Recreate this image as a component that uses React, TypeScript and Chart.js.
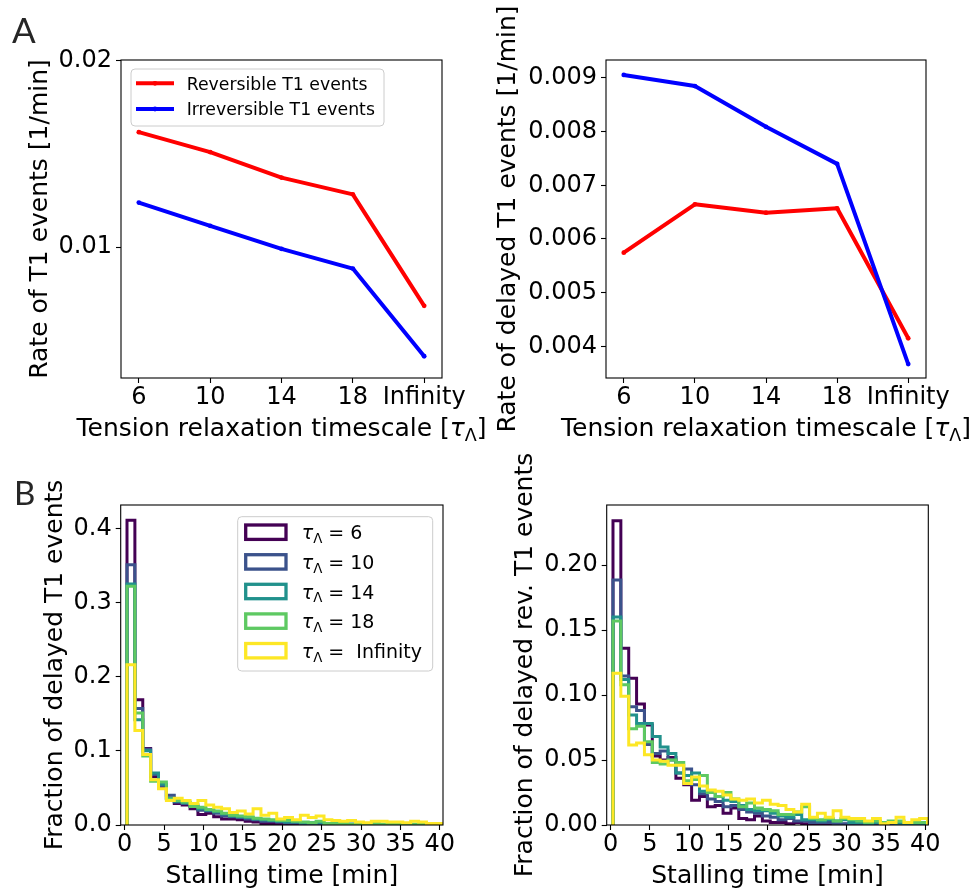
import React, { useEffect, useRef } from "react";
import { Chart, registerables } from "chart.js";

Chart.register(...registerables);

const FONT = "'DejaVu Sans', 'Liberation Sans', Arial, sans-serif";
const TITLE_SIZE = 25;

// ---------------- Panel A data ----------------
const tauCategories = ["6", "10", "14", "18", "Infinity"];
const tauPositions = [0, 1, 2, 3, 4];
const reversibleRate = [0.01617, 0.0151, 0.01373, 0.01283, 0.00684];
const irreversibleRate = [0.01239, 0.01114, 0.0099, 0.00884, 0.00413];
const delayedReversibleRate = [0.005745, 0.006646, 0.00649, 0.006572, 0.00415];
const delayedIrreversibleRate = [0.009056, 0.00885, 0.00809, 0.0074, 0.00367];
const rateTicksLeft = [0.01, 0.02];
const rateTicksRight = [0.004, 0.005, 0.006, 0.007, 0.008, 0.009];

// ---------------- Panel B data ----------------
const stallBinEdges = [
  0.3, 1.3, 2.3, 3.3, 4.3, 5.3, 6.3, 7.3, 8.3, 9.3, 10.3, 11.3, 12.3, 13.3,
  14.3, 15.3, 16.3, 17.3, 18.3, 19.3, 20.3, 21.3, 22.3, 23.3, 24.3, 25.3,
  26.3, 27.3, 28.3, 29.3, 30.3, 31.3, 32.3, 33.3, 34.3, 35.3, 36.3, 37.3,
  38.3, 39.3, 40.3,
];
const stallTicks = [0, 5, 10, 15, 20, 25, 30, 35, 40];
const delayedFracTicks = [0, 0.1, 0.2, 0.3, 0.4];
const delayedRevFracTicks = [0, 0.05, 0.1, 0.15, 0.2];
const viridisColors = ["#440154", "#3b528b", "#21918c", "#5ec962", "#fde725"];

const delayedTau6 = [0.411, 0.169, 0.103, 0.065, 0.05, 0.036, 0.029, 0.027, 0.022, 0.014, 0.016, 0.011, 0.008, 0.008, 0.007, 0.005, 0.004, 0.002, 0.002, 0.002, 0.0015, 0.0015, 0.001, 0.001, 0.001, 0.0008, 0.0008, 0.0005, 0.0005, 0.0005, 0.0004, 0.0003, 0.0003, 0.0002, 0.0002, 0.0002, 0.0001, 0.0001, 0.0001, 0.0001];
const delayedTau10 = [0.351, 0.157, 0.102, 0.068, 0.053, 0.04, 0.031, 0.029, 0.025, 0.02, 0.019, 0.016, 0.012, 0.011, 0.01, 0.008, 0.007, 0.005, 0.005, 0.004, 0.003, 0.003, 0.002, 0.002, 0.002, 0.001, 0.001, 0.001, 0.001, 0.001, 0.0008, 0.0006, 0.0006, 0.0005, 0.0004, 0.0004, 0.0003, 0.0003, 0.0002, 0.0002];
const delayedTau14 = [0.325, 0.142, 0.1, 0.07, 0.055, 0.036, 0.032, 0.03, 0.027, 0.022, 0.02, 0.018, 0.015, 0.012, 0.011, 0.01, 0.008, 0.007, 0.006, 0.005, 0.004, 0.004, 0.003, 0.003, 0.003, 0.002, 0.002, 0.001, 0.001, 0.001, 0.001, 0.001, 0.0008, 0.0008, 0.0006, 0.0006, 0.0005, 0.0004, 0.0004, 0.0003];
const delayedTau18 = [0.322, 0.151, 0.093, 0.059, 0.058, 0.035, 0.033, 0.031, 0.025, 0.024, 0.021, 0.019, 0.016, 0.013, 0.012, 0.011, 0.009, 0.008, 0.007, 0.006, 0.006, 0.005, 0.004, 0.003, 0.005, 0.002, 0.002, 0.002, 0.001, 0.002, 0.001, 0.002, 0.001, 0.001, 0.001, 0.001, 0.001, 0.0008, 0.0006, 0.0005];
const delayedTauInf = [0.216, 0.1275, 0.095, 0.061, 0.049, 0.033, 0.036, 0.033, 0.029, 0.033, 0.027, 0.024, 0.022, 0.017, 0.019, 0.015, 0.022, 0.013, 0.016, 0.008, 0.01, 0.007, 0.013, 0.01, 0.012, 0.007, 0.006, 0.005, 0.006, 0.004, 0.003, 0.005, 0.005, 0.004, 0.004, 0.003, 0.005, 0.004, 0.002, 0.002];

const delayedRevTau6 = [0.234, 0.136, 0.113, 0.093, 0.077, 0.053, 0.05, 0.052, 0.036, 0.031, 0.019, 0.022, 0.014, 0.015, 0.009, 0.013, 0.005, 0.004, 0.007, 0.003, 0.002, 0.002, 0.001, 0.002, 0.001, 0.001, 0.001, 0.0005, 0.0005, 0.0005, 0.0005, 0, 0, 0, 0, 0, 0, 0, 0, 0];
const delayedRevTau10 = [0.1885, 0.1146, 0.091, 0.088, 0.062, 0.055, 0.057, 0.05, 0.04, 0.043, 0.031, 0.024, 0.02, 0.018, 0.014, 0.015, 0.012, 0.01, 0.009, 0.007, 0.006, 0.004, 0.005, 0.003, 0.003, 0.002, 0.002, 0.002, 0.001, 0.001, 0.001, 0.001, 0.001, 0.001, 0.0005, 0.0005, 0.0005, 0.0005, 0.0005, 0];
const delayedRevTau14 = [0.16, 0.112, 0.0846, 0.078, 0.078, 0.068, 0.06, 0.055, 0.04, 0.038, 0.04, 0.026, 0.025, 0.022, 0.019, 0.018, 0.015, 0.012, 0.011, 0.011, 0.009, 0.007, 0.006, 0.008, 0.004, 0.004, 0.003, 0.004, 0.003, 0.004, 0.002, 0.002, 0.001, 0.002, 0.001, 0.002, 0.001, 0.001, 0.001, 0.001];
const delayedRevTau18 = [0.157, 0.108, 0.074, 0.076, 0.064, 0.048, 0.047, 0.05, 0.048, 0.034, 0.035, 0.038, 0.025, 0.022, 0.025, 0.02, 0.014, 0.017, 0.013, 0.012, 0.011, 0.008, 0.008, 0.01, 0.014, 0.005, 0.004, 0.005, 0.003, 0.005, 0.004, 0.003, 0.002, 0.003, 0.002, 0.003, 0.003, 0.002, 0.002, 0.002];
const delayedRevTauInf = [0.1167, 0.099, 0.0615, 0.063, 0.054, 0.05, 0.049, 0.046, 0.046, 0.032, 0.037, 0.03, 0.027, 0.026, 0.023, 0.02, 0.019, 0.02, 0.017, 0.019, 0.016, 0.015, 0.012, 0.01, 0.016, 0.006, 0.009, 0.006, 0.011, 0.006, 0.005, 0.005, 0.003, 0.005, 0.001, 0.002, 0.006, 0.002, 0.004, 0.005];

const delayedSeries = [delayedTau6, delayedTau10, delayedTau14, delayedTau18, delayedTauInf];
const delayedRevSeries = [delayedRevTau6, delayedRevTau10, delayedRevTau14, delayedRevTau18, delayedRevTauInf];

// ---------------- helpers ----------------
type Seg = { t: string; italic?: boolean; scale?: number; dy?: number };

function segFont(s: Seg, size: number) {
  return `${s.italic ? "italic " : ""}${size * (s.scale || 1)}px ${FONT}`;
}

function drawRich(ctx: CanvasRenderingContext2D, segs: Seg[], x: number, y: number, size: number, align: "left" | "center") {
  ctx.textAlign = "left";
  ctx.textBaseline = "alphabetic";
  const widths = segs.map((s) => {
    ctx.font = segFont(s, size);
    return ctx.measureText(s.t).width;
  });
  const total = widths.reduce((a, b) => a + b, 0);
  let cx = align === "center" ? x - total / 2 : x;
  segs.forEach((s, i) => {
    ctx.font = segFont(s, size);
    ctx.fillText(s.t, cx, y + (s.dy || 0) * size);
    cx += widths[i];
  });
}

function roundRectPath(ctx: CanvasRenderingContext2D, x: number, y: number, w: number, h: number, r: number) {
  ctx.beginPath();
  ctx.moveTo(x + r, y);
  ctx.lineTo(x + w - r, y);
  ctx.quadraticCurveTo(x + w, y, x + w, y + r);
  ctx.lineTo(x + w, y + h - r);
  ctx.quadraticCurveTo(x + w, y + h, x + w - r, y + h);
  ctx.lineTo(x + r, y + h);
  ctx.quadraticCurveTo(x, y + h, x, y + h - r);
  ctx.lineTo(x, y + r);
  ctx.quadraticCurveTo(x, y, x + r, y);
  ctx.closePath();
}

function tauSegs(v: string): Seg[] {
  return [
    { t: "τ", italic: true },
    { t: "Λ", scale: 0.7, dy: 0.2 },
    { t: ` = ${v === "Infinity" ? " " : ""}${v}` },
  ];
}

const tensionTitle: Seg[] = [
  { t: "Tension relaxation timescale [" },
  { t: "τ", italic: true },
  { t: "Λ", scale: 0.7, dy: 0.2 },
  { t: "]" },
];
const stallTitle: Seg[] = [{ t: "Stalling time [min]" }];

type Decor = {
  xTitle: Seg[];
  xTitleY: number;
  yTitle: Seg[];
  yTitleX: number;
  letter?: { text: string; x: number; y: number; size: number };
  legend?: (ctx: CanvasRenderingContext2D) => void;
};

function decorPlugin(d: Decor) {
  return {
    id: "decor",
    afterDatasetsDraw(chart: any) {
      const { ctx, chartArea: a } = chart;
      ctx.save();
      ctx.strokeStyle = "#000";
      ctx.lineWidth = 1.1;
      ctx.strokeRect(a.left, a.top, a.right - a.left, a.bottom - a.top);
      ctx.restore();
    },
    afterDraw(chart: any) {
      const { ctx, chartArea: a } = chart;
      ctx.save();
      ctx.fillStyle = "#000";
      drawRich(ctx, d.xTitle, (a.left + a.right) / 2, d.xTitleY, TITLE_SIZE, "center");
      ctx.save();
      ctx.translate(d.yTitleX, (a.top + a.bottom) / 2);
      ctx.rotate(-Math.PI / 2);
      drawRich(ctx, d.yTitle, 0, 0, TITLE_SIZE, "center");
      ctx.restore();
      if (d.letter) {
        ctx.font = `${d.letter.size}px Lato, 'Open Sans', sans-serif`;
        ctx.fillStyle = "#262626";
        ctx.textAlign = "left";
        ctx.textBaseline = "alphabetic";
        ctx.fillText(d.letter.text, d.letter.x, d.letter.y);
      }
      if (d.legend) d.legend(ctx);
      ctx.restore();
    },
  };
}

type AxisSpec = { min: number; max: number; ticks: number[]; format: (v: number) => string };
type Rect = { left: number; top: number; width: number; height: number };
type Area = { l: number; t: number; r: number; b: number };

function axisOpts(kind: "x" | "y", s: AxisSpec, size: number) {
  return {
    type: "linear",
    position: kind === "x" ? "bottom" : "left",
    min: s.min,
    max: s.max,
    afterBuildTicks: (sc: any) => {
      sc.ticks = s.ticks.map((v) => ({ value: v }));
    },
    afterFit: (sc: any) => {
      if (kind === "x") sc.height = size;
      else sc.width = size;
    },
    ticks: {
      callback: (v: any) => s.format(Number(v)),
      font: { family: FONT, size: 24, lineHeight: 1 },
      color: "#000",
      padding: kind === "x" ? 3 : 4,
      maxRotation: 0,
      minRotation: 0,
      autoSkip: false,
    },
    grid: { display: true, drawOnChartArea: false, drawTicks: true, tickLength: 5, tickColor: "#000", tickWidth: 1.1 },
    border: { display: false },
    title: { display: false },
  };
}

function baseOptions(rect: Rect, area: Area, xs: AxisSpec, ys: AxisSpec) {
  return {
    responsive: false,
    maintainAspectRatio: false,
    animation: false,
    devicePixelRatio: 1,
    events: [],
    layout: {
      padding: { left: 0, top: area.t - rect.top, right: rect.left + rect.width - area.r, bottom: 0 },
    },
    plugins: { legend: { display: false }, tooltip: { enabled: false }, title: { display: false } },
    scales: {
      x: axisOpts("x", xs, rect.top + rect.height - area.b),
      y: axisOpts("y", ys, area.l - rect.left),
    },
  };
}

function lineDatasets(red: number[], blue: number[]) {
  const mk = (vals: number[], color: string, order: number) => ({
    data: tauPositions.map((x, i) => ({ x, y: vals[i] })),
    borderColor: color,
    backgroundColor: color,
    borderWidth: 4,
    pointRadius: 2.4,
    pointBorderWidth: 0,
    pointBackgroundColor: color,
    tension: 0,
    fill: false,
    borderJoinStyle: "round",
    order,
  });
  return [mk(red, "#ff0000", 1), mk(blue, "#0000ff", 0)];
}

function histDatasets(series: number[][]) {
  return series.map((vals, si) => {
    const n = Math.min(vals.length, stallBinEdges.length - 1);
    const pts = [{ x: stallBinEdges[0], y: 0 }];
    for (let i = 0; i < n; i++) pts.push({ x: stallBinEdges[i + 1], y: vals[i] });
    pts.push({ x: stallBinEdges[n], y: 0 });
    return {
      data: pts,
      borderColor: viridisColors[si],
      borderWidth: 3,
      pointRadius: 0,
      stepped: "after",
      tension: 0,
      fill: false,
      borderJoinStyle: "miter",
      borderCapStyle: "butt",
      order: series.length - 1 - si,
    };
  });
}

function lineLegend(ctx: CanvasRenderingContext2D) {
  roundRectPath(ctx, 131, 69, 253, 57, 4);
  ctx.fillStyle = "rgba(255,255,255,0.8)";
  ctx.fill();
  ctx.strokeStyle = "#cccccc";
  ctx.lineWidth = 1;
  ctx.stroke();
  const items = [
    { label: "Reversible T1 events", color: "#ff0000", y: 83.3 },
    { label: "Irreversible T1 events", color: "#0000ff", y: 109 },
  ];
  items.forEach((it) => {
    ctx.strokeStyle = it.color;
    ctx.lineWidth = 4;
    ctx.beginPath();
    ctx.moveTo(136, it.y);
    ctx.lineTo(174, it.y);
    ctx.stroke();
    ctx.fillStyle = it.color;
    ctx.beginPath();
    ctx.arc(155, it.y, 2.4, 0, Math.PI * 2);
    ctx.fill();
    ctx.fillStyle = "#000";
    drawRich(ctx, [{ t: it.label }], 186.7, it.y + 6.3, 17.3, "left");
  });
}

function histLegend(ctx: CanvasRenderingContext2D) {
  const oy = -445;
  roundRectPath(ctx, 237.7, 516.7 + oy, 195, 154.3, 4);
  ctx.fillStyle = "rgba(255,255,255,0.8)";
  ctx.fill();
  ctx.strokeStyle = "#cccccc";
  ctx.lineWidth = 1;
  ctx.stroke();
  const centers = [532.2, 561.9, 591.5, 621.1, 650.7];
  tauCategories.forEach((v, i) => {
    const cy = centers[i] + oy;
    ctx.strokeStyle = viridisColors[i];
    ctx.lineWidth = 3.3;
    ctx.strokeRect(245.7, cy - 7.2, 40.3, 14.4);
    ctx.fillStyle = "#000";
    drawRich(ctx, tauSegs(v), 301.7, cy + 7.1, 19, "left");
  });
}

function ChartPanel(props: { rect: Rect; build: () => any }) {
  const ref = useRef<HTMLCanvasElement>(null);
  useEffect(() => {
    if (!ref.current) return;
    const chart = new Chart(ref.current, props.build());
    return () => chart.destroy();
  }, []);
  const r = props.rect;
  return (
    <canvas
      ref={ref}
      width={r.width}
      height={r.height}
      style={{ position: "absolute", left: r.left, top: r.top, width: r.width, height: r.height }}
    />
  );
}

const rectTL: Rect = { left: 0, top: 0, width: 500, height: 445 };
const rectTR: Rect = { left: 486, top: 0, width: 490, height: 445 };
const rectBL: Rect = { left: 0, top: 445, width: 500, height: 445 };
const rectBR: Rect = { left: 486, top: 445, width: 490, height: 445 };

const areaTL: Area = { l: 121, t: 60, r: 442, b: 378 };
const areaTR: Area = { l: 606, t: 60, r: 926, b: 378 };
const areaBL: Area = { l: 120.7, t: 505, r: 443, b: 825 };
const areaBR: Area = { l: 606.7, t: 505, r: 928.3, b: 825 };

const tauAxis: AxisSpec = { min: -0.25, max: 4.25, ticks: tauPositions, format: (v) => tauCategories[v] ?? "" };
const stallAxis: AxisSpec = { min: -0.5, max: 40.4, ticks: stallTicks, format: (v) => String(v) };

function buildTL() {
  return {
    type: "line",
    data: { datasets: lineDatasets(reversibleRate, irreversibleRate) },
    options: baseOptions(rectTL, areaTL, tauAxis, { min: 0.00296, max: 0.02005, ticks: rateTicksLeft, format: (v) => v.toFixed(2) }),
    plugins: [
      decorPlugin({
        xTitle: tensionTitle,
        xTitleY: 435.5,
        yTitle: [{ t: "Rate of T1 events [1/min]" }],
        yTitleX: 46.5,
        letter: { text: "A", x: 12, y: 43, size: 35 },
        legend: lineLegend,
      }),
    ],
  };
}

function buildTR() {
  return {
    type: "line",
    data: { datasets: lineDatasets(delayedReversibleRate, delayedIrreversibleRate) },
    options: baseOptions(rectTR, areaTR, tauAxis, { min: 0.00341, max: 0.009335, ticks: rateTicksRight, format: (v) => v.toFixed(3) }),
    plugins: [
      decorPlugin({
        xTitle: tensionTitle,
        xTitleY: 435.5,
        yTitle: [{ t: "Rate of delayed T1 events [1/min]" }],
        yTitleX: 28.5,
      }),
    ],
  };
}

function buildBL() {
  return {
    type: "line",
    data: { datasets: histDatasets(delayedSeries) },
    options: baseOptions(rectBL, areaBL, stallAxis, { min: 0, max: 0.4315, ticks: delayedFracTicks, format: (v) => v.toFixed(1) }),
    plugins: [
      decorPlugin({
        xTitle: stallTitle,
        xTitleY: 437.5,
        yTitle: [{ t: "Fraction of delayed T1 events" }],
        yTitleX: 61.5,
        letter: { text: "B", x: 14, y: 60, size: 33 },
        legend: histLegend,
      }),
    ],
  };
}

function buildBR() {
  return {
    type: "line",
    data: { datasets: histDatasets(delayedRevSeries) },
    options: baseOptions(rectBR, areaBR, stallAxis, { min: 0, max: 0.2462, ticks: delayedRevFracTicks, format: (v) => v.toFixed(2) }),
    plugins: [
      decorPlugin({
        xTitle: stallTitle,
        xTitleY: 437.5,
        yTitle: [{ t: "Fraction of delayed rev. T1 events" }],
        yTitleX: 45.5,
      }),
    ],
  };
}

export default function App() {
  return (
    <div style={{ position: "absolute", left: 0, top: 0, width: 976, height: 890, background: "#fff", overflow: "hidden" }}>
      <ChartPanel rect={rectTL} build={buildTL} />
      <ChartPanel rect={rectTR} build={buildTR} />
      <ChartPanel rect={rectBL} build={buildBL} />
      <ChartPanel rect={rectBR} build={buildBR} />
    </div>
  );
}
